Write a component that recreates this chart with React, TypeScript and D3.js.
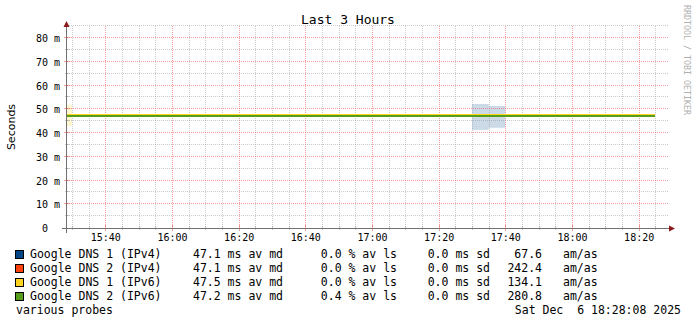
import React from "react";
import * as d3 from "d3";

const TITLE = "Last 3 Hours";
const Y_LABEL = "Seconds";
const WATERMARK = "RRDTOOL / TOBI OETIKER";
const SERIES_NAMES = ["Google DNS 1 (IPv4)", "Google DNS 2 (IPv4)", "Google DNS 1 (IPv6)", "Google DNS 2 (IPv6)"];
const SERIES_COLORS = ["#004586", "#ff420e", "#ffd320", "#579d1c"];
const MEDIANS = ["47.1", "47.1", "47.5", "47.2"];
const LOSSES = ["0.0", "0.0", "0.0", "0.4"];
const SDS = ["0.0", "0.0", "0.0", "0.0"];
const AMAS = ["67.6", "242.4", "134.1", "280.8"];
const FOOT_LEFT = "various probes";
const FOOT_RIGHT = "Sat Dec  6 18:28:08 2025";

const X_TICKS = ["15:40", "16:00", "16:20", "16:40", "17:00", "17:20", "17:40", "18:00", "18:20"];
const Y_TICKS = [0, 10, 20, 30, 40, 50, 60, 70, 80];
const DOMAIN_START = "15:28:30";
const DOMAIN_END = "18:28:30";

// 5-minute bins (start times)
const BIN_TIMES = [
  "15:25", "15:30", "15:35", "15:40", "15:45", "15:50", "15:55", "16:00", "16:05", "16:10", "16:15", "16:20",
  "16:25", "16:30", "16:35", "16:40", "16:45", "16:50", "16:55", "17:00", "17:05", "17:10", "17:15", "17:20",
  "17:25", "17:30", "17:35", "17:40", "17:45", "17:50", "17:55", "18:00", "18:05", "18:10", "18:15", "18:20",
];
const DNS1_V4 = [
  47.1, 47.1, 47.1, 47.1, 47.1, 47.1, 47.1, 47.1, 47.1, 47.1, 47.1, 47.1,
  47.1, 47.1, 47.0, 47.0, 47.1, 47.1, 47.1, 47.1, 47.1, 47.1, 47.1, 47.1,
  47.1, 47.1, 47.1, 47.1, 47.1, 47.1, 47.1, 47.1, 47.1, 47.1, 47.1, 47.1,
];
const DNS2_V4 = [
  47.1, 47.1, 47.1, 47.1, 47.1, 47.1, 47.1, 47.1, 47.1, 47.1, 47.1, 47.1,
  47.1, 47.1, 47.1, 47.1, 47.1, 47.1, 47.0, 47.1, 47.1, 47.1, 47.1, 47.1,
  47.1, 47.1, 47.1, 47.1, 47.1, 47.1, 47.1, 47.1, 47.1, 47.1, 47.1, 47.1,
];
const DNS1_V6 = [
  47.5, 47.5, 47.5, 47.5, 47.5, 47.5, 47.5, 47.5, 47.5, 47.5, 47.5, 47.5,
  47.5, 47.5, 47.5, 47.5, 47.5, 47.5, 47.5, 47.5, 47.5, 47.5, 47.5, 47.5,
  47.5, 47.5, 47.5, 47.5, 47.5, 47.5, 47.5, 47.5, 47.5, 47.5, 47.5, 47.5,
];
const DNS2_V6 = [
  47.2, 47.2, 47.2, 47.2, 47.2, 47.2, 47.2, 47.2, 47.2, 47.2, 47.2, 47.2,
  47.2, 47.2, 47.2, 47.2, 47.2, 47.2, 47.2, 47.2, 47.2, 47.2, 47.2, 47.2,
  47.2, 47.2, 47.2, 47.2, 47.2, 47.2, 47.2, 47.2, 47.2, 47.2, 47.2, 47.2,
];
const SERIES_VALUES = [DNS1_V4, DNS2_V4, DNS1_V6, DNS2_V6];

// smoke boxes: series index, bin start, low, high (ms)
const SMOKE_SERIES = [2, 0, 0];
const SMOKE_START = ["15:25", "17:30", "17:35"];
const SMOKE_LOW = [42.9, 41.3, 42.2];
const SMOKE_HIGH = [51.8, 52.2, 51.4];

const STEP_MIN = 5;
const toMin = (s: string) => {
  const p = s.split(":").map(Number);
  return p[0] * 60 + p[1] + (p[2] || 0) / 60;
};

const MONO = "'DejaVu Sans Mono', monospace";
const SANS = "'DejaVu Sans', sans-serif";

export default function App() {
  const W = 697, H = 324;
  const left = 67, right = 667, top = 26, bottom = 228;
  const x = d3.scaleLinear().domain([toMin(DOMAIN_START), toMin(DOMAIN_END)]).range([left, right]);
  const y = d3.scaleLinear().domain([0, 80]).range([bottom, 38]);

  const crisp = (v: number) => Math.round(v) + 0.5;

  const minorX: number[] = [];
  for (let t = Math.ceil(toMin(DOMAIN_START) / 5) * 5; t <= toMin(DOMAIN_END); t += 5) minorX.push(t);
  const majorXSet = new Set(X_TICKS.map(toMin));
  const minorY: number[] = [];
  for (let v = 5; v <= 85; v += 5) if (y(v) >= top) minorY.push(v);

  const gridMinor = "rgba(140,140,140,0.45)";
  const gridMajor = "rgba(240,80,80,0.55)";

  const lineGen = d3
    .line<[number, number]>()
    .x((d) => x(d[0]))
    .y((d) => y(d[1]))
    .curve(d3.curveStepAfter);

  const seriesPath = (vals: number[]) => {
    const pts: [number, number][] = BIN_TIMES.map((t, i) => [toMin(t), vals[i]]);
    pts.push([toMin(BIN_TIMES[BIN_TIMES.length - 1]) + STEP_MIN, vals[vals.length - 1]]);
    return lineGen(pts) || "";
  };

  const legendTop = 250;
  const rowH = 14;
  const pre = { whiteSpace: "pre" as const };

  return (
    <svg width={W} height={H} style={{ position: "absolute", left: 0, top: 0, background: "#fff" }}>
      <rect x={0} y={0} width={W} height={H} fill="#fff" />
      <defs>
        <clipPath id="plot">
          <rect x={left} y={top} width={right - left} height={bottom - top} />
        </clipPath>
      </defs>

      {/* smoke */}
      <g clipPath="url(#plot)">
        {SMOKE_START.map((s, i) => (
          <rect
            key={"sm" + i}
            x={x(toMin(s))}
            width={x(toMin(s) + STEP_MIN) - x(toMin(s))}
            y={y(SMOKE_HIGH[i])}
            height={y(SMOKE_LOW[i]) - y(SMOKE_HIGH[i])}
            fill={SERIES_COLORS[SMOKE_SERIES[i]]}
            fillOpacity={0.2}
          />
        ))}
      </g>

      {/* vertical grid */}
      {minorX.map((t) => {
        const major = majorXSet.has(t);
        const xx = crisp(x(t));
        return (
          <g key={"vx" + t}>
            <line x1={xx} x2={xx} y1={top} y2={bottom} stroke={major ? gridMajor : gridMinor} strokeDasharray="1,1" />
            <line x1={xx} x2={xx} y1={major ? 225 : 226} y2={major ? 231 : 230} stroke={major ? gridMajor : gridMinor} />
          </g>
        );
      })}
      {/* horizontal grid */}
      {minorY.map((v) => {
        const major = v % 10 === 0;
        const yy = crisp(y(v)) - 1;
        return (
          <g key={"hy" + v}>
            <line x1={left} x2={669} y1={yy} y2={yy} stroke={major ? gridMajor : gridMinor} strokeDasharray="1,1" />
            <line x1={major ? 64 : 65} x2={major ? 70 : 69} y1={yy} y2={yy} stroke={major ? gridMajor : gridMinor} />
          </g>
        );
      })}

      {/* series lines */}
      <g clipPath="url(#plot)" shapeRendering="crispEdges">
        {SERIES_VALUES.map((vals, i) => (
          <path key={"ln" + i} d={seriesPath(vals)} fill="none" stroke={SERIES_COLORS[i]} strokeWidth={2} />
        ))}
      </g>

      {/* axes */}
      <line x1={62} x2={670} y1={bottom + 0.5} y2={bottom + 0.5} stroke="#707070" />
      <line x1={left - 0.5} x2={left - 0.5} y1={233} y2={22} stroke="#707070" />
      <path d={`M669,${bottom - 2.5} L675,${bottom + 0.5} L669,${bottom + 3.5} Z`} fill="#8b1a1a" />
      <path d={`M${left - 3.5},27 L${left - 0.5},21 L${left + 2.5},27 Z`} fill="#8b1a1a" />

      {/* y labels */}
      {Y_TICKS.map((v) => (
        <g key={"yl" + v} fontFamily={MONO} fontSize={10} fill="#000">
          <text x={48} y={y(v) + 4} textAnchor="end">{v}</text>
          {v !== 0 && <text x={54} y={y(v) + 4}>m</text>}
        </g>
      ))}
      {/* x labels */}
      {X_TICKS.map((t) => (
        <text key={"xl" + t} x={x(toMin(t)) + 0.5} y={241} textAnchor="middle" fontFamily={MONO} fontSize={10} fill="#000">
          {t}
        </text>
      ))}

      {/* title and axis label */}
      <text x={348} y={23.5} textAnchor="middle" fontFamily={MONO} fontSize={13} fill="#000">{TITLE}</text>
      <text transform="translate(15,127) rotate(-90)" textAnchor="middle" fontFamily={SANS} fontSize={11} fill="#000">{Y_LABEL}</text>
      <text transform="translate(684,5) rotate(90)" fontFamily={MONO} fontSize={8.3} fill="#b0b0b0">{WATERMARK}</text>

      {/* legend */}
      <g fontFamily={MONO} fontSize={11.5} fill="#000">
        {SERIES_NAMES.map((name, i) => {
          const cy = legendTop + i * rowH;
          const by = cy + 8;
          return (
            <g key={"lg" + i}>
              <rect x={15.5} y={cy + 0.5} width={8} height={8} fill={SERIES_COLORS[i]} stroke="#000" />
              <text x={30} y={by}>{name}</text>
              <text x={193} y={by}>{`${MEDIANS[i]} ms av md`}</text>
              <text x={397} y={by} textAnchor="end">{`${LOSSES[i]} % av ls`}</text>
              <text x={490} y={by} textAnchor="end">{`${SDS[i]} ms sd`}</text>
              <text x={542} y={by} textAnchor="end">{AMAS[i]}</text>
              <text x={563} y={by}>am/as</text>
            </g>
          );
        })}
        <text x={16} y={legendTop + 4 * rowH + 8}>{FOOT_LEFT}</text>
        <text x={681} y={legendTop + 4 * rowH + 8} textAnchor="end" xmlSpace="preserve" style={pre}>{FOOT_RIGHT}</text>
      </g>
    </svg>
  );
}
